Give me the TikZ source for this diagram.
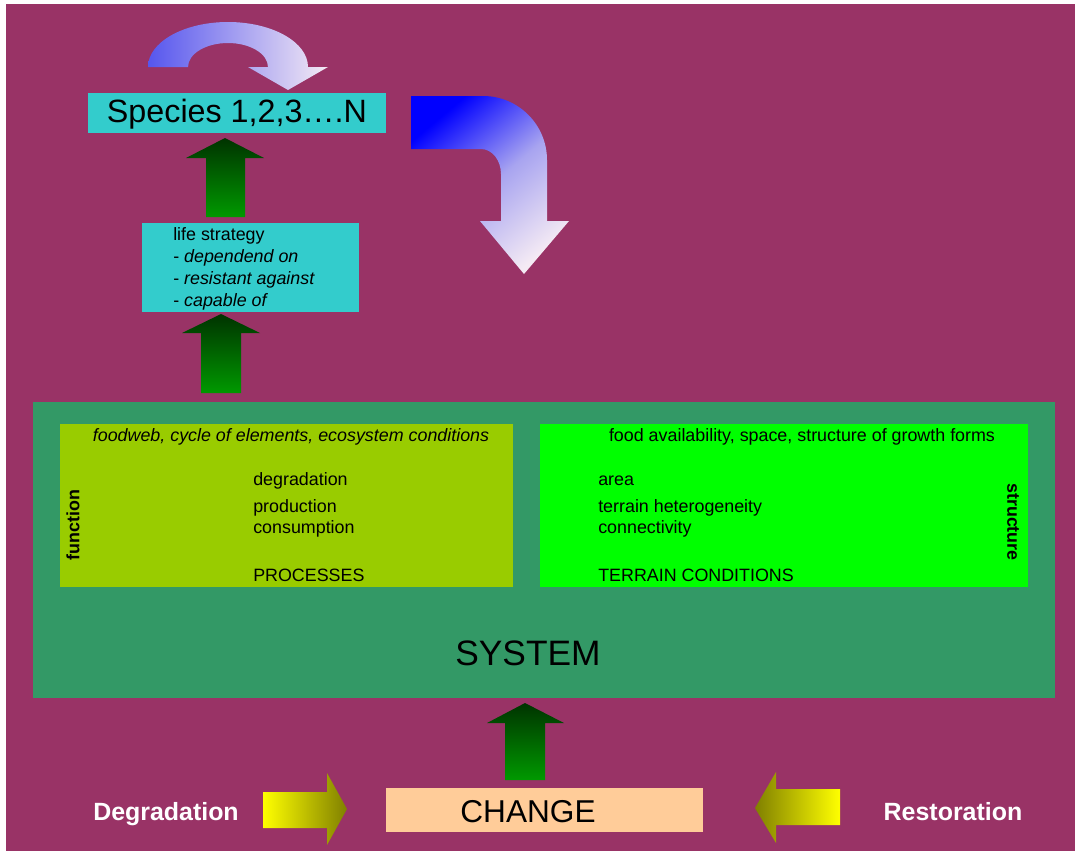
\documentclass[tikz,border=0pt]{standalone}
\usepackage{fontspec}
\setmainfont{Liberation Sans}
\usetikzlibrary{fit}
\definecolor{bgcol}{HTML}{993366}
\definecolor{cyanbox}{HTML}{33CCCC}
\definecolor{syscol}{HTML}{339966}
\definecolor{fncol}{HTML}{99CC00}
\definecolor{stcol}{HTML}{00FF00}
\definecolor{chcol}{HTML}{FFCC99}
\definecolor{dgtop}{HTML}{003300}
\definecolor{dgbot}{HTML}{009900}
\definecolor{yel}{HTML}{FFFF00}
\definecolor{oliv}{HTML}{808000}
\definecolor{blueA}{HTML}{5656EE}
\definecolor{pinkW}{HTML}{F4EAF4}
\definecolor{lav}{HTML}{A8A4F0}
\tikzset{
  box/.style={inner sep=0pt, outer sep=0pt, draw=none},
  txt/.style={inner sep=0pt, anchor=base},
  ltxt/.style={inner sep=0pt, anchor=base west},
  small/.style={font=\fontsize{13.4}{16}\selectfont},
  greenarrow/.style={top color=dgtop, bottom color=dgbot, draw=none},
  bigtext/.style={font=\fontsize{18.7}{22}\selectfont\bfseries, text=white}
}
\begin{document}
\begin{tikzpicture}[x=0.75pt,y=0.75pt]
\useasboundingbox (0,0) rectangle (1075,-851);
\fill[white] (0,0) rectangle (1075,-851);
\fill[bgcol] (6,-4) rectangle (1075,-851);

% small curved arrow above species
\path[left color=blueA, right color=pinkW, draw=none]
  (148,-67) arc[start angle=180, end angle=0, x radius=80, y radius=45]
  -- (328,-67) -- (288,-90) -- (248,-67) -- (268,-67)
  arc[start angle=0, end angle=180, x radius=40, y radius=24] -- cycle;

% big curved arrow
\path[top color=blue, bottom color=pinkW, middle color=lav, shading angle=40, draw=none]
  (411,-96) -- (483,-96)
  arc[start angle=90, end angle=0, x radius=64, y radius=64]
  -- (547,-221) -- (569,-221) -- (524,-274) -- (480,-221) -- (501,-221)
  -- (501,-174)
  arc[start angle=0, end angle=90, x radius=20, y radius=25]
  -- (411,-149) -- cycle;

% species box
\node[box, fill=cyanbox, fit={(88,-93) (386,-133)}] (species) {};
\node[txt, font=\fontsize{24.2}{28}\selectfont] (speciestxt) at (237,-122) {Species 1,2,3….N};

% life strategy box
\node[box, fill=cyanbox, fit={(142,-223) (359,-312)}] (life) {};
\node[ltxt, small] (l1) at (173,-240) {life strategy};
\node[ltxt, small] (l2) at (173,-262) {- \textit{dependend on}};
\node[ltxt, small] (l3) at (173,-284) {- \textit{resistant against}};
\node[ltxt, small] (l4) at (173,-306) {- \textit{capable of}};

% system box
\node[box, fill=syscol, fit={(33,-402) (1055,-698)}] (system) {};
\node[box, fill=fncol, fit={(60,-424) (513,-587)}] (func) {};
\node[box, fill=stcol, fit={(540,-424) (1028,-587)}] (struct) {};

\node[txt, small] (fhead) at (291,-441) {\textit{foodweb, cycle of elements, ecosystem conditions}};
\node[ltxt, small] (f1) at (253,-485) {degradation};
\node[ltxt, small] (f2) at (253,-512) {production};
\node[ltxt, small] (f3) at (253,-533) {consumption};
\node[ltxt, small] (f4) at (253,-581) {PROCESSES};
\node[inner sep=0pt, font=\fontsize{13.4}{16}\selectfont\bfseries, rotate=90] (fn) at (73,-525) {function};

\node[txt, small] (shead) at (802,-441) {food availability, space, structure of growth forms};
\node[ltxt, small] (s1) at (598,-485) {area};
\node[ltxt, small] (s2) at (598,-512) {terrain heterogeneity};
\node[ltxt, small] (s3) at (598,-533) {connectivity};
\node[ltxt, small] (s4) at (598,-581) {TERRAIN CONDITIONS};
\node[inner sep=0pt, font=\fontsize{13.4}{16}\selectfont\bfseries, rotate=-90] (st) at (1013,-522) {structure};

\node[txt, font=\fontsize{26.5}{30}\selectfont] (systxt) at (528,-665) {SYSTEM};

% change box
\node[box, fill=chcol, fit={(386,-788) (703,-832)}] (change) {};
\node[txt, font=\fontsize{23.7}{28}\selectfont] (changetxt) at (528,-822) {CHANGE};

% green arrows
\path[greenarrow] (206,-217) -- (206,-158) -- (186,-158) -- (225,-138) -- (264,-158) -- (245,-158) -- (245,-217) -- cycle;
\path[greenarrow] (201,-393) -- (201,-333) -- (182,-333) -- (221,-314) -- (260,-333) -- (241,-333) -- (241,-393) -- cycle;
\path[greenarrow] (505,-780) -- (505,-723) -- (487,-723) -- (525,-703) -- (564,-723) -- (545,-723) -- (545,-780) -- cycle;

% yellow arrows
\path[left color=yel, right color=oliv, draw=none]
  (263,-792) -- (327,-792) -- (327,-773) -- (347,-809) -- (327,-845) -- (327,-828) -- (263,-828) -- cycle;
\path[left color=oliv, right color=yel, draw=none]
  (840,-789) -- (776,-789) -- (776,-772) -- (755,-808) -- (776,-843) -- (776,-825) -- (840,-825) -- cycle;

\node[txt, bigtext] (degr) at (166,-820) {Degradation};
\node[txt, bigtext] (rest) at (953,-820) {Restoration};
\end{tikzpicture}
\end{document}
